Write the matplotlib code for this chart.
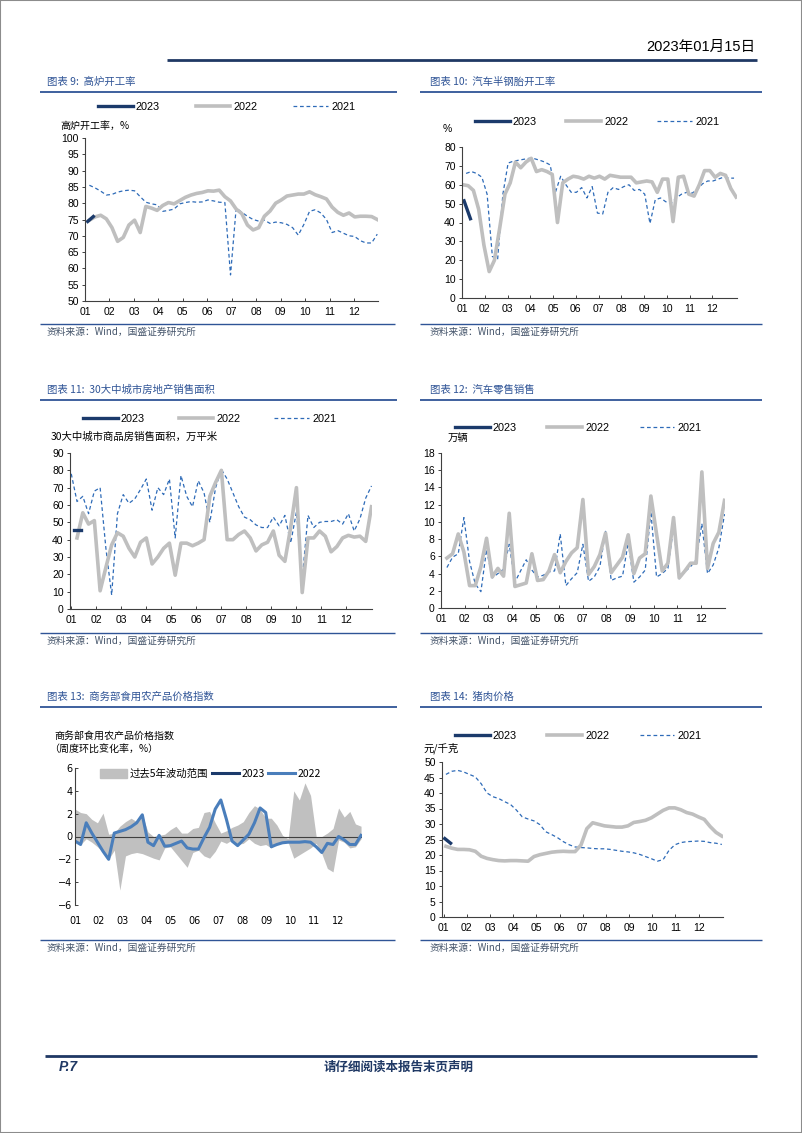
import numpy as np
import matplotlib
matplotlib.use('Agg')
import matplotlib.pyplot as plt
from matplotlib.lines import Line2D
from matplotlib.patches import Rectangle, Patch

W, H = 802, 1133
CJK = ['Noto Sans CJK SC', 'DejaVu Sans']
NUM = ['Liberation Sans', 'Noto Sans CJK SC']

C23 = '#1B3A6B'
C22 = '#BFBFBF'
C21 = '#2E6BB8'
BLUE = '#2F5496'
SRC = '#44546A'

months = ['01', '02', '03', '04', '05', '06', '07', '08', '09', '10', '11', '12']

# 图表9 高炉开工率 (%)，周度
bf_2023 = [74.4, 75.9]
bf_2022 = [74.8, 75.8, 76.3, 75.2, 72.5, 68.3, 69.5, 73.3, 74.8, 71.0, 79.0, 78.5, 77.8,
           79.3, 80.2, 79.8, 80.8, 81.8, 82.5, 83.0, 83.3, 83.8, 83.7, 84.0, 82.0, 80.7,
           78.2, 76.8, 73.3, 71.8, 72.5, 76.0, 77.6, 80.0, 81.0, 82.2, 82.5, 82.8, 82.8,
           83.5, 82.6, 82.0, 81.3, 78.8, 77.2, 76.3, 77.0, 75.8, 76.0, 76.0, 75.9, 75.0]
bf_2021 = [85.5, 84.7, 83.7, 82.5, 82.7, 83.4, 83.8, 84.0, 83.8, 82.0, 80.3, 79.8, 79.5,
           77.5, 77.8, 78.2, 79.8, 80.2, 80.5, 80.3, 80.4, 81.0, 80.7, 80.3, 80.2, 58.0,
           78.5, 77.2, 76.0, 75.0, 74.5, 74.8, 73.8, 74.2, 74.0, 73.5, 72.5, 70.2, 73.5,
           77.5, 78.0, 77.0, 75.0, 71.0, 71.6, 70.8, 70.0, 69.8, 68.5, 67.8, 67.8, 70.5]

# 图表10 汽车半钢胎开工率 (%)
tyre_2023 = [51.5, 42.0]
tyre_2022 = [60, 59.5, 57, 47, 28, 14, 20, 37, 55, 61, 72, 69, 72, 74, 67, 68, 67, 65.5,
             40, 61, 63, 64.5, 64, 63, 64.5, 63.5, 64.5, 63, 65, 64.5, 64, 64, 64, 61,
             61.5, 62, 61.5, 56, 63, 63, 40.5, 64, 64.5, 55, 54, 60, 67.5, 67.5, 64, 66,
             65, 58, 53.5]
tyre_2021 = [66, 67, 66, 64, 55, 22, 20.5, 55, 71.5, 72.5, 73, 73.5, 74, 73.8, 73, 72,
             70.5, 56, 64.5, 60, 56, 56, 58.5, 53, 59, 45, 44.5, 56, 58.5, 57.5, 59, 60,
             57, 57.5, 55, 39.5, 52, 53, 51, 50, 53, 55, 56, 55.5, 57.5, 60.5, 62, 62,
             63, 64, 63.5, 63.5]

# 图表11 30大中城市商品房销售面积 (万平米)
house_2023 = [45.5, 45.5]
house_2022 = [41, 55.5, 49, 51, 10.5, 24, 37, 44, 42, 35, 30, 38.5, 41, 26, 30, 35, 38,
              19.5, 38, 38, 36.5, 38, 40, 65, 73, 80, 40, 40, 43, 45, 41, 33.5, 37, 38.5,
              45, 31, 27.5, 47, 70, 9.5, 41, 41, 45, 42, 33, 36, 41, 42.5, 41.5, 42, 39, 59]
house_2021 = [78, 62, 65, 55, 68, 70, 35, 8, 55, 66, 61, 63.5, 69, 75, 57, 70, 66, 75, 41,
              77, 65, 59, 74, 67, 50, 70, 80.5, 75, 67, 59, 53, 51.5, 48.5, 47, 47, 53,
              48, 54, 38, 56, 17, 54, 47, 50, 50.5, 50.5, 51.5, 49, 55, 45, 52, 64, 71]

# 图表12 汽车零售销售 (万辆)
car_2023 = []
car_2022 = [5.8, 6.3, 8.6, 6.5, 2.6, 2.6, 4.8, 8.1, 3.6, 4.6, 3.7, 11.0, 2.5, 2.7, 2.9,
            6.3, 3.2, 3.3, 4.3, 6.2, 4.1, 5.4, 6.4, 7.0, 12.6, 3.9, 4.8, 6.2, 8.7, 4.1,
            5.0, 5.9, 8.5, 4.0, 5.8, 6.3, 13.0, 8.6, 4.3, 5.2, 10.5, 3.5, 4.3, 5.2, 5.2,
            15.8, 4.6, 7.5, 8.8, 12.5]
car_2021 = [4.7, 5.9, 6.3, 10.5, 5.4, 2.8, 1.9, 6.8, 3.5, 4.0, 4.5, 7.4, 3.0, 4.3, 5.6,
            4.4, 3.6, 3.8, 4.2, 4.3, 8.6, 2.6, 3.4, 4.1, 7.4, 3.1, 3.6, 4.8, 8.9, 3.2,
            3.5, 3.7, 7.6, 3.0, 3.6, 4.4, 11.2, 3.6, 4.0, 4.6, 9.4, 3.4, 4.2, 4.8, 5.6,
            9.8, 4.0, 5.0, 7.0, 10.9]

# 图表13 商务部食用农产品价格指数 周度环比 (%)
agri_2023 = []
agri_2022 = [-0.4, -0.7, 1.2, 0.3, -0.5, -1.3, -2.0, 0.3, 0.45, 0.6, 0.85, 1.2, 1.9,
             -0.5, -0.8, 0.1, -0.85, -0.8, -0.6, -0.4, -1.0, -1.1, -1.1, -0.1, 0.8, 2.4,
             3.2, 1.5, -0.4, -0.8, -0.3, 0.2, 1.2, 2.5, 2.1, -0.9, -0.7, -0.55, -0.5,
             -0.5, -0.5, -0.45, -0.5, -0.9, -1.4, -0.6, -0.7, 0.0, -0.3, -0.7, -0.7, 0.1]
agri_hi = [2.4, 2.1, 2.0, 1.5, 1.2, 2.05, 0.2, 0.3, 0.9, 1.3, 1.6, 1.3, 1.9, 0.4, 0.0,
           0.1, 0.2, 0.6, 0.9, 0.3, 0.3, 0.7, 0.8, 2.1, 2.2, 1.2, 0.3, 0.5, 0.8, 1.0,
           1.3, 2.1, 2.7, 2.4, 1.6, 1.6, 1.0, 0.1, -0.2, 4.0, 3.2, 4.7, 3.6, 0.0, 0.0,
           0.3, 0.7, 2.5, 1.7, 2.2, 1.1, 0.9]
agri_lo = [-0.45, -0.7, -0.2, -0.5, -0.9, -1.4, -2.0, -1.2, -4.7, -1.7, -1.5, -1.4, -1.5,
           -1.7, -1.9, -2.05, -1.0, -0.9, -1.5, -2.1, -2.7, -1.4, -1.2, -1.7, -1.9, -1.3,
           -0.4, -0.6, -0.3, -0.7, -0.6, -0.2, -0.6, -0.8, -0.7, -1.0, -0.6, -0.6, -0.5,
           -1.9, -1.6, -1.3, -1.0, -0.6, -1.5, -2.8, -3.1, -0.3, -0.5, -1.0, -0.9, -0.2]

# 图表14 猪肉价格 (元/千克)
pork_2023 = [25.3, 23.8]
pork_2022 = [22.8, 22.2, 21.8, 21.8, 21.7, 21.2, 19.6, 18.9, 18.5, 18.2, 18.1, 18.2,
             18.2, 18.1, 18.0, 19.5, 20.1, 20.5, 20.9, 21.1, 21.2, 21.1, 21.1, 23.2,
             28.5, 30.4, 29.9, 29.4, 29.2, 29.0, 29.0, 29.4, 30.5, 30.8, 31.2, 32.0,
             33.2, 34.4, 35.2, 35.2, 34.6, 33.7, 33.2, 32.3, 31.5, 29.2, 27.3, 26.1]
pork_2021 = [46.0, 47.0, 47.3, 46.8, 46.0, 45.2, 43.0, 40.0, 38.8, 38.2, 37.2, 36.3,
             34.5, 32.3, 31.6, 31.0, 29.8, 27.5, 26.6, 25.6, 24.3, 23.3, 22.6, 22.4,
             22.3, 22.1, 22.0, 22.0, 21.8, 21.5, 21.2, 21.0, 20.7, 20.2, 19.5, 18.8,
             18.0, 18.5, 21.5, 23.3, 24.0, 24.3, 24.4, 24.5, 24.4, 24.0, 23.8, 23.4]


def wk(vals, first, last):
    # evenly spaced weekly positions on a month axis (0 = Jan 1)
    return np.linspace(first, last, len(vals)) if len(vals) else []


def fx(x):
    return x / W


def fy(y):
    return 1 - y / H


def box(l, t, r, b):
    return [l / W, 1 - b / H, (r - l) / W, (b - t) / H]


fig = plt.figure(figsize=(W / 100, H / 100), dpi=100)
fig.add_artist(Rectangle((0, 0), 1, 1, transform=fig.transFigure, fill=False,
                         edgecolor='#8C8C8C', lw=1.5))


def hline(x0, x1, y, color=BLUE, lw=1.1):
    fig.add_artist(Line2D([fx(x0), fx(x1)], [fy(y), fy(y)], transform=fig.transFigure,
                          color=color, lw=lw, solid_capstyle='butt'))


def ftext(x, y, s, size=7.5, family=CJK, ha='left', **kw):
    fig.text(fx(x), fy(y), s, fontsize=size, family=family, ha=ha, va='center', **kw)


# header / footer
ftext(755, 47, '2023年01月15日', size=10.5, family=NUM, ha='right', color='black')
hline(167, 757, 60, color='#1F3864', lw=2.0)
hline(45, 757, 1056, color='#1F3864', lw=2.0)
ftext(59, 1067, 'P.7', size=10, family=NUM, color='#1F3864', weight='bold', style='italic')
ftext(399, 1067, '请仔细阅读本报告末页声明', size=9, ha='center', color='#1F3864',
      weight='bold', style='italic')

# section titles, lines and sources
titles = [(47, 82, '图表 9:  高炉开工率'), (430, 82, '图表 10:  汽车半钢胎开工率'),
          (47, 390, '图表 11:  30大中城市房地产销售面积'), (430, 390, '图表 12:  汽车零售销售'),
          (47, 697, '图表 13:  商务部食用农产品价格指数'), (430, 697, '图表 14:  猪肉价格')]
for x, y, s in titles:
    ftext(x, y, s, size=7.5, color=BLUE, style='italic')
for y in (92, 400, 707):
    hline(40, 397, y, lw=1.3)
    hline(420, 762, y, lw=1.3)
for y in (324, 633, 940):
    hline(40, 395, y, lw=1.0)
    hline(420, 762, y, lw=1.0)
    ftext(47, y + 8, '资料来源：Wind，国盛证券研究所', size=7, color=SRC, style='italic')
    ftext(430, y + 8, '资料来源：Wind，国盛证券研究所', size=7, color=SRC, style='italic')


def style_axes(ax, ylim, step, xlim=(0, 12), tick_family=NUM):
    ax.set_xlim(*xlim)
    ax.set_ylim(*ylim)
    ax.set_yticks(np.arange(ylim[0], ylim[1] + step / 2, step))
    ax.set_xticks(range(12))
    ax.set_xticklabels(months)
    for s in ('top', 'right'):
        ax.spines[s].set_visible(False)
    for s in ('left', 'bottom'):
        ax.spines[s].set_linewidth(0.8)
        ax.spines[s].set_color('#404040')
    ax.tick_params(axis='x', direction='in', length=2.5, width=0.7, pad=4, colors='#404040')
    ax.tick_params(axis='y', direction='out', length=2.5, width=0.7, pad=2, colors='#404040')
    for lab in ax.get_xticklabels() + ax.get_yticklabels():
        lab.set_family(tick_family)
        lab.set_fontsize(7.5)
        lab.set_color('black')
    ax.patch.set_alpha(0)


def three_lines(ax, d23, d22, d21, x23, x22, x21):
    l21, = ax.plot(wk(d21, *x21), d21, color=C21, lw=0.9, dashes=(3, 2.2))
    l22, = ax.plot(wk(d22, *x22), d22, color=C22, lw=2.6)
    l23, = ax.plot(wk(d23, *x23), d23, color=C23, lw=2.4)
    return [l23, l22, l21]


def top_legend(ax, handles, x, y, colsp):
    ax.legend(handles, ['2023', '2022', '2021'], loc='center left',
              bbox_to_anchor=(fx(x), fy(y)), bbox_transform=fig.transFigure, ncol=3,
              frameon=False, borderpad=0, borderaxespad=0, handlelength=3.2,
              handletextpad=0.3, columnspacing=colsp,
              prop={'family': NUM, 'size': 7.8})


# chart 9
ax = fig.add_axes(box(85, 138, 378, 301))
h = three_lines(ax, bf_2023, bf_2022, bf_2021, (0.11, 0.34), (0.18, 11.95), (0.18, 11.95))
style_axes(ax, (50, 100), 5, xlim=(0, 11.98))
top_legend(ax, h, 98, 107, 3.3)
ftext(60, 126, '高炉开工率，%', size=7.2)

# chart 10
ax = fig.add_axes(box(462, 147, 737, 298))
h = three_lines(ax, tyre_2023, tyre_2022, tyre_2021, (0.09, 0.37), (0.04, 12.04), (0.18, 11.95))
style_axes(ax, (0, 80), 10, xlim=(0, 12.08))
top_legend(ax, h, 475, 122, 2.7)
ftext(443, 129, '%', size=7.5, family=NUM)

# chart 11
ax = fig.add_axes(box(70, 453, 372, 609))
h = three_lines(ax, house_2023, house_2022, house_2021, (0.1, 0.37), (12 / 52, 12), (0, 12))
style_axes(ax, (0, 90), 10, xlim=(-0.05, 12.02))
top_legend(ax, h, 83, 419, 3.1)
ftext(51, 437, '30大中城市商品房销售面积，万平米', size=7.5)

# chart 12
ax = fig.add_axes(box(441, 453, 725, 608))
h = three_lines(ax, car_2023, car_2022, car_2021, (0.1, 0.3), (0.25, 12.0), (0.25, 12.0))
style_axes(ax, (0, 18), 2, xlim=(0.03, 12.02))
top_legend(ax, h, 455, 428, 2.8)
ftext(448, 438, '万辆', size=7.5)

# chart 13
ax = fig.add_axes(box(75, 768, 362, 905))
xa = wk(agri_2022, 0, 11.94)
band = ax.fill_between(wk(agri_hi, 0, 11.94), agri_lo, agri_hi, color='#C0C0C0', lw=0)
ax.axhline(0, color='#404040', lw=0.8)
l23, = ax.plot(wk(agri_2023, 0, 0.2), agri_2023, color=C23, lw=2.2)
l22, = ax.plot(xa, agri_2022, color='#4A7EBB', lw=2.2)
style_axes(ax, (-6, 6), 2, xlim=(0, 11.98), tick_family=['DejaVu Sans'])
ax.spines['bottom'].set_visible(False)
ax.tick_params(axis='x', length=0, pad=8)
ax.tick_params(axis='y', direction='in')
for lab in ax.get_xticklabels() + ax.get_yticklabels():
    lab.set_fontsize(7)
ax.legend([Patch(color='#C0C0C0'), l23, l22], ['过去5年波动范围', '2023', '2022'],
          loc='center left', bbox_to_anchor=(fx(100), fy(774)),
          bbox_transform=fig.transFigure, ncol=3, frameon=False, borderpad=0,
          borderaxespad=0, handlelength=2.6, handleheight=0.9, handletextpad=0.25,
          columnspacing=0.35, prop={'family': CJK, 'size': 7.5})
ftext(54, 736, '商务部食用农产品价格指数', size=7.2)
ftext(49, 750, '（周度环比变化率，%）', size=7.2)

# chart 14
ax = fig.add_axes(box(442, 762, 723, 917))
h = three_lines(ax, pork_2023, pork_2022, pork_2021, (0.05, 0.3), (0.1, 12.0), (0.1, 12.0))
style_axes(ax, (0, 50), 5, xlim=(-0.07, 12.05))
top_legend(ax, h, 455, 736, 2.8)
ftext(423, 748, '元/千克', size=7.5)

fig.savefig('out.png', dpi=100)
